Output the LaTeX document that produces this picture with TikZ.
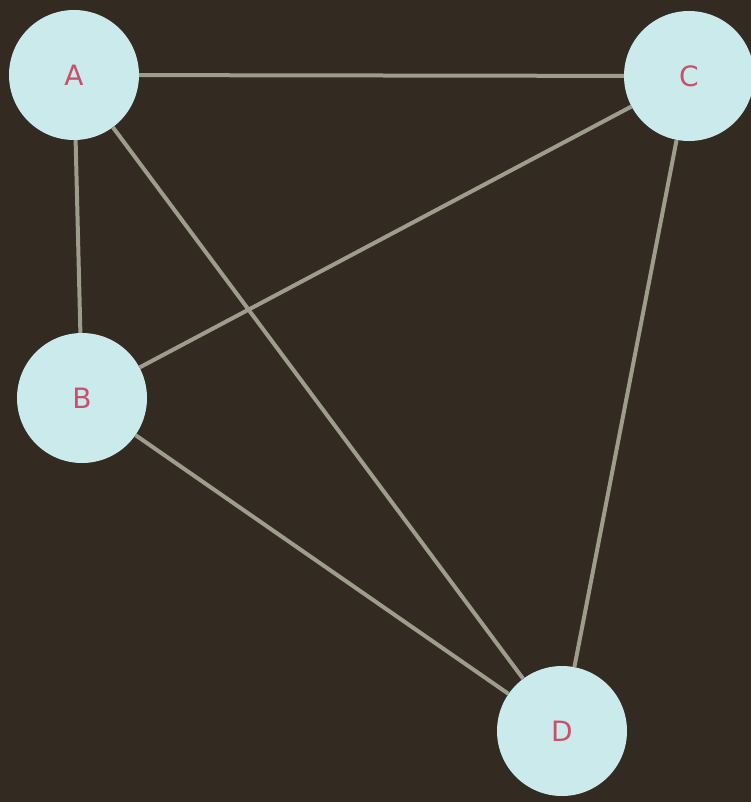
\documentclass[tikz,border=0pt]{standalone}
\usepackage{fontspec}
\setmainfont{DejaVu Sans}
\definecolor{bgc}{HTML}{332A22}
\definecolor{nodec}{HTML}{CBEAEC}
\definecolor{txtc}{HTML}{C8506A}
\definecolor{edgec}{HTML}{9E9C8A}
\begin{document}
\begin{tikzpicture}[x=1pt,y=-1pt,
  vert/.style={circle,fill=nodec,draw=none,minimum size=130pt,inner sep=0pt,text=txtc,font=\fontsize{28}{30}\selectfont},
  edge/.style={draw=edgec,line width=4pt}]
\fill[bgc] (0,0) rectangle (751,802);
\useasboundingbox (0,0) rectangle (751,802);
\node[vert] (A) at (74,75) {A};
\node[vert] (C) at (689,76) {C};
\node[vert] (B) at (82,398) {B};
\node[vert] (D) at (562,731) {D};
\draw[edge] (A) -- (C);
\draw[edge] (A) -- (B);
\draw[edge] (A) -- (D);
\draw[edge] (C) -- (B);
\draw[edge] (C) -- (D);
\draw[edge] (B) -- (D);
\end{tikzpicture}
\end{document}
